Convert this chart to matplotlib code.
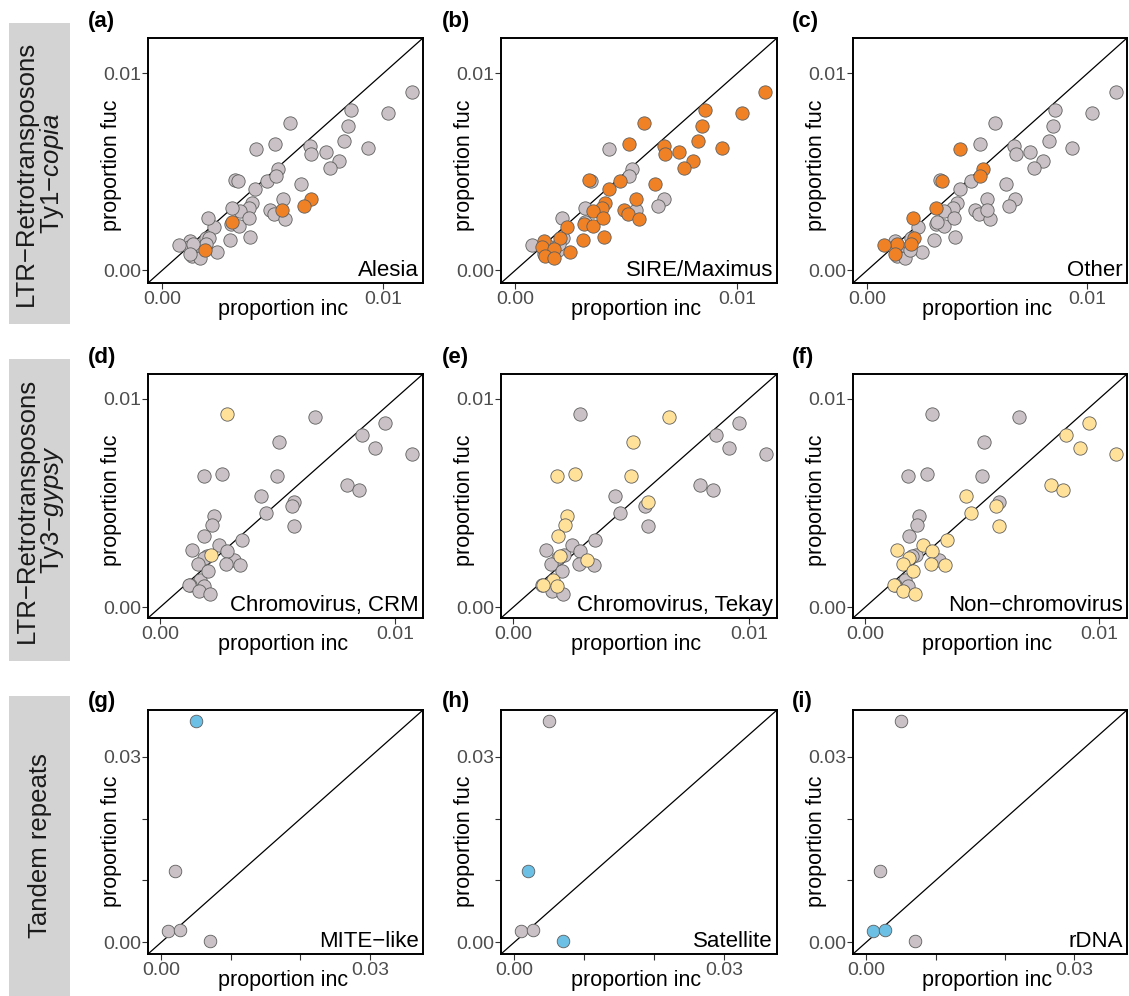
import matplotlib
matplotlib.use('Agg')
import matplotlib.pyplot as plt
from matplotlib.patches import Rectangle

plt.rcParams['font.family'] = ['Liberation Sans', 'DejaVu Sans']
plt.rcParams['mathtext.fontset'] = 'custom'
plt.rcParams['mathtext.rm'] = 'Liberation Sans'
plt.rcParams['mathtext.it'] = 'Liberation Sans:italic'

# ---- row 1: LTR Ty1-copia (same points in a, b, c) ----
copia_inc = [0.01128, 0.01020, 0.00854, 0.00842, 0.00932, 0.00824, 0.00579, 0.00511,
             0.00669, 0.00674, 0.00740, 0.00800, 0.00759, 0.00331, 0.00474, 0.00421,
             0.00629, 0.00546, 0.00406, 0.00391, 0.00350, 0.00489, 0.00507, 0.00556,
             0.00311, 0.00349, 0.00394, 0.00233, 0.00200, 0.00305, 0.00398, 0.00128,
             0.00120, 0.00173, 0.00248, 0.00135, 0.00173,
             0.00672, 0.00642, 0.00544, 0.00316, 0.00194,
             0.00424, 0.00525, 0.00514, 0.00341, 0.00314, 0.00209, 0.00214, 0.00198,
             0.00138, 0.00075, 0.00128]
copia_fuc = [0.00908, 0.00797, 0.00814, 0.00732, 0.00620, 0.00658, 0.00746, 0.00641,
             0.00631, 0.00590, 0.00603, 0.00556, 0.00522, 0.00458, 0.00454, 0.00415,
             0.00441, 0.00364, 0.00344, 0.00319, 0.00302, 0.00305, 0.00285, 0.00259,
             0.00237, 0.00225, 0.00268, 0.00222, 0.00163, 0.00153, 0.00171, 0.00149,
             0.00119, 0.00107, 0.00095, 0.00073, 0.00061,
             0.00364, 0.00327, 0.00307, 0.00244, 0.00103,
             0.00615, 0.00514, 0.00480, 0.00454, 0.00315, 0.00268, 0.00166, 0.00132,
             0.00132, 0.00129, 0.00081]
copia_grp = ['SIRE/Maximus'] * 37 + ['Alesia'] * 5 + ['Other'] * 11

# ---- row 2: LTR Ty3-gypsy (same points in d, e, f) ----
gypsy_inc = [0.00284, 0.00216,
             0.00659, 0.00506, 0.00185, 0.00263, 0.00499, 0.00570, 0.00230, 0.00220,
             0.00189, 0.00199, 0.00315, 0.00171, 0.00129, 0.00185,
             0.00956, 0.00859, 0.00916, 0.01073, 0.00793, 0.00845, 0.00430, 0.00560,
             0.00451, 0.00570, 0.00348, 0.00249, 0.00285, 0.00138, 0.00189, 0.00161,
             0.00280, 0.00341, 0.00206, 0.00124, 0.00164, 0.00213]
gypsy_fuc = [0.00927, 0.00249,
             0.00912, 0.00791, 0.00628, 0.00641, 0.00631, 0.00503, 0.00436, 0.00393,
             0.00340, 0.00244, 0.00228, 0.00133, 0.00109, 0.00101,
             0.00883, 0.00827, 0.00762, 0.00735, 0.00588, 0.00562, 0.00532, 0.00484,
             0.00452, 0.00388, 0.00321, 0.00300, 0.00272, 0.00276, 0.00236, 0.00208,
             0.00208, 0.00204, 0.00173, 0.00109, 0.00077, 0.00064]
gypsy_grp = (['Chromovirus, CRM'] * 2 + ['Chromovirus, Tekay'] * 14
             + ['Non\u2212chromovirus'] * 22)

# ---- row 3: tandem repeats (same points in g, h, i) ----
tandem_inc = [0.00500, 0.00200, 0.00095, 0.00271, 0.00700]
tandem_fuc = [0.03588, 0.01149, 0.00189, 0.00205, 0.00027]
tandem_grp = ['MITE\u2212like', 'Satellite', 'rDNA', 'rDNA', 'Satellite']

rows = [
    dict(inc=copia_inc, fuc=copia_fuc, grp=copia_grp,
         panels=['Alesia', 'SIRE/Maximus', 'Other'], letters=['(a)', '(b)', '(c)'],
         color='#F08125', lim=(-0.00064, 0.0118), size=92, ylab_y=0.482,
         ticks=[0, 0.01], ticklabels=['0.00', '0.01'],
         side='LTR\u2212Retrotransposons\nTy1\u2212$\\mathit{copia}$'),
    dict(inc=gypsy_inc, fuc=gypsy_fuc, grp=gypsy_grp,
         panels=['Chromovirus, CRM', 'Chromovirus, Tekay', 'Non\u2212chromovirus'],
         letters=['(d)', '(e)', '(f)'],
         color='#FFE199', lim=(-0.00051, 0.01118), size=92, ylab_y=0.484,
         ticks=[0, 0.01], ticklabels=['0.00', '0.01'],
         side='LTR\u2212Retrotransposons\nTy3\u2212$\\mathit{gypsy}$'),
    dict(inc=tandem_inc, fuc=tandem_fuc, grp=tandem_grp,
         panels=['MITE\u2212like', 'Satellite', 'rDNA'], letters=['(g)', '(h)', '(i)'],
         color='#6CC0E5', lim=(-0.0019, 0.0376), size=82, ylab_y=0.463,
         ticks=[0, 0.01, 0.02, 0.03], ticklabels=['0.00', '', '', '0.03'],
         side='Tandem repeats'),
]

W, H = 1129, 996
fig = plt.figure(figsize=(W / 100, H / 100), dpi=100)

col_px = [(148, 423), (501, 777), (853, 1127)]
row_px = [(38, 283), (374, 618), (710, 954)]
side_px = [(23, 324), (359, 661), (696, 996)]
letter_x = [88, 442, 792]
letter_y = [11, 347, 691]

for r, row in enumerate(rows):
    t, b = row_px[r]
    # grey strip on the left
    st, sb = side_px[r]
    fig.patches.append(Rectangle((9 / W, 1 - sb / H), 61 / W, (sb - st) / H,
                                 transform=fig.transFigure, facecolor='#D3D3D3',
                                 edgecolor='none'))
    fig.text(40 / W, 1 - (st + sb) / 2 / H, row['side'], rotation=90,
             ha='center', va='center', fontsize=18.5, color='#1A1A1A',
             multialignment='center', linespacing=1.0)
    for c in range(3):
        l, rr = col_px[c]
        ax = fig.add_axes([l / W, 1 - b / H, (rr - l) / W, (b - t) / H])
        lo, hi = row['lim']
        ax.set_xlim(lo, hi)
        ax.set_ylim(lo, hi)
        ax.axline((0, 0), slope=1, color='black', lw=0.9, zorder=1)
        name = row['panels'][c]
        gx = [x for x, g in zip(row['inc'], row['grp']) if g != name]
        gy = [y for y, g in zip(row['fuc'], row['grp']) if g != name]
        hx = [x for x, g in zip(row['inc'], row['grp']) if g == name]
        hy = [y for y, g in zip(row['fuc'], row['grp']) if g == name]
        ax.scatter(gx, gy, s=row['size'], facecolor='#C9C1C5', edgecolor='#5E5E5E',
                   linewidth=0.6, zorder=2)
        ax.scatter(hx, hy, s=row['size'], facecolor=row['color'], edgecolor='#5E5E5E',
                   linewidth=0.6, zorder=3)
        ax.set_xticks(row['ticks'])
        ax.set_xticklabels(row['ticklabels'])
        ax.set_yticks(row['ticks'])
        ax.set_yticklabels(row['ticklabels'])
        ax.tick_params(axis='both', length=4, width=0.8, color='#333333',
                       labelsize=14, labelcolor='#4D4D4D')
        ax.tick_params(axis='y', pad=1)
        ax.tick_params(axis='x', pad=2)
        for sp in ax.spines.values():
            sp.set_linewidth(1.4)
            sp.set_color('black')
        ax.set_xlabel('proportion inc', fontsize=15.5)
        ax.set_ylabel('proportion fuc', fontsize=15.5)
        ax.xaxis.set_label_coords(0.49, -0.065)
        ax.yaxis.set_label_coords(-0.095, row['ylab_y'])
        ax.text(0.985, 0.028, name, transform=ax.transAxes, ha='right',
                va='baseline', fontsize=16, color='black')
        fig.text(letter_x[c] / W, 1 - letter_y[r] / H, row['letters'][c],
                 ha='left', va='top', fontsize=16, fontweight='bold')

fig.savefig('out.png', dpi=100)
